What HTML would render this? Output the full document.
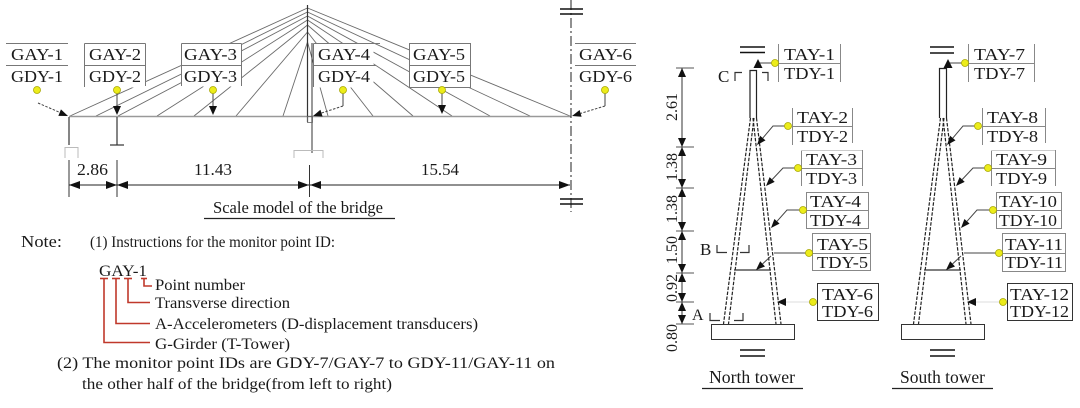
<!DOCTYPE html>
<html><head><meta charset="utf-8"><style>
html,body{margin:0;padding:0;background:#fff;}
svg{display:block;font-family:"Liberation Serif","Times New Roman",Times,serif;}
text{font-family:"Liberation Serif","Times New Roman",Times,serif;fill:#1a1a1a;}
</style></head><body>
<svg width="1080" height="408" viewBox="0 0 1080 408" xmlns="http://www.w3.org/2000/svg" font-family="Liberation Serif, Times New Roman, serif">
<rect x="0" y="0" width="1080" height="408" fill="#fff"/>

<!-- ===== LEFT: bridge ===== -->
<g stroke="#6a6a6a" stroke-width="0.9" fill="none">
<line x1="307.5" y1="8" x2="70" y2="116"/>
<line x1="307.5" y1="12" x2="96" y2="116"/>
<line x1="307.5" y1="16" x2="118" y2="116"/>
<line x1="307.5" y1="20" x2="157" y2="116"/>
<line x1="307.5" y1="25" x2="194" y2="116"/>
<line x1="307.5" y1="32" x2="236" y2="116"/>
<line x1="307.5" y1="42" x2="283" y2="116"/>
<line x1="307.5" y1="8" x2="570" y2="116"/>
<line x1="307.5" y1="12" x2="530" y2="116"/>
<line x1="307.5" y1="16" x2="490" y2="116"/>
<line x1="307.5" y1="20" x2="452" y2="116"/>
<line x1="307.5" y1="25" x2="413" y2="116"/>
<line x1="307.5" y1="32" x2="373" y2="116"/>
<line x1="307.5" y1="42" x2="328" y2="116"/>
</g>
<line x1="69" y1="116.5" x2="571" y2="116.5" stroke="#999" stroke-width="1.5"/>
<line x1="307.5" y1="5" x2="307.5" y2="122" stroke="#333" stroke-width="1.2"/>
<line x1="312" y1="43" x2="312" y2="153" stroke="#333" stroke-width="1"/>
<rect x="307.5" y="116.5" width="5" height="6" fill="none" stroke="#666" stroke-width="0.8"/>

<line x1="571" y1="0" x2="571" y2="212" stroke="#222" stroke-width="1" stroke-dasharray="10 3 2 3"/>
<g stroke="#111" stroke-width="1.5">
<line x1="560" y1="9" x2="583" y2="9"/><line x1="560" y1="14" x2="583" y2="14"/>
<line x1="560" y1="199" x2="583" y2="199"/><line x1="560" y1="204" x2="583" y2="204"/>
</g>

<g stroke="#333" stroke-width="1.2" fill="none">
<line x1="69" y1="117" x2="69" y2="145"/>
<line x1="117" y1="117" x2="117" y2="145"/>
<line x1="110" y1="145" x2="124" y2="145"/>
</g>
<g stroke="#bbb" stroke-width="1" fill="none">
<path d="M65,158 V147.5 H78 V158"/>
<path d="M294,158 V150.5 H323 V158"/>
</g>
<g stroke="#333" stroke-width="1">
<line x1="69" y1="160" x2="69" y2="197"/>
<line x1="117" y1="160" x2="117" y2="197"/>
<line x1="309.5" y1="165" x2="309.5" y2="197"/>
</g>
<g stroke="#222" stroke-width="1">
<line x1="69" y1="185" x2="117" y2="185"/>
<line x1="117" y1="185" x2="309" y2="185"/>
<line x1="310" y1="185" x2="570" y2="185"/>
</g>
<g fill="#111">
<polygon points="69,185 80,181 80,189"/>
<polygon points="117,185 106,181 106,189"/>
<polygon points="117,185 128,181 128,189"/>
<polygon points="309,185 298,181 298,189"/>
<polygon points="310,185 321,181 321,189"/>
<polygon points="570,185 559,181 559,189"/>
</g>
<text x="77" y="175" font-size="17" textLength="31" lengthAdjust="spacingAndGlyphs">2.86</text>
<text x="194" y="175" font-size="17" textLength="38" lengthAdjust="spacingAndGlyphs">11.43</text>
<text x="421" y="175" font-size="17" textLength="38" lengthAdjust="spacingAndGlyphs">15.54</text>

<text x="213" y="213" font-size="16.5" textLength="170" lengthAdjust="spacingAndGlyphs">Scale model of the bridge</text>
<line x1="204" y1="218.5" x2="395" y2="218.5" stroke="#222" stroke-width="1.2"/>

<!-- GAY labels -->
<g stroke="#777" stroke-width="1" fill="none">
<line x1="6" y1="43.5" x2="68" y2="43.5"/><line x1="6" y1="65.5" x2="68" y2="65.5"/>
</g>
<rect x="84.5" y="43.5" width="61" height="44" fill="#fff"/>
<g stroke="#777" stroke-width="1" fill="none">
<line x1="84.5" y1="43.5" x2="145.5" y2="43.5"/><line x1="84.5" y1="65.5" x2="145.5" y2="65.5"/>
<line x1="84.5" y1="43.5" x2="84.5" y2="87"/><line x1="145.5" y1="43.5" x2="145.5" y2="86"/>
</g>
<rect x="181.5" y="43.5" width="60" height="43" fill="#fff"/>
<g stroke="#777" stroke-width="1" fill="none">
<line x1="181.5" y1="43.5" x2="241.5" y2="43.5"/><line x1="181.5" y1="65.5" x2="241.5" y2="65.5"/>
<line x1="181.5" y1="43.5" x2="181.5" y2="86"/><line x1="241.5" y1="43.5" x2="241.5" y2="86"/>
</g>
<rect x="313.5" y="43.5" width="60" height="44" fill="#fff"/>
<g stroke="#777" stroke-width="1" fill="none">
<line x1="313.5" y1="43.5" x2="380" y2="43.5"/><line x1="313.5" y1="65.5" x2="376" y2="65.5"/>
<line x1="313.5" y1="43.5" x2="313.5" y2="87"/>
</g>
<rect x="409.5" y="43.5" width="61" height="44" fill="#fff" stroke="#777" stroke-width="1"/>
<line x1="409.5" y1="65.5" x2="470.5" y2="65.5" stroke="#777" stroke-width="1"/>
<g stroke="#777" stroke-width="1" fill="none">
<line x1="575" y1="43.5" x2="636" y2="43.5"/><line x1="575" y1="65.5" x2="636" y2="65.5"/>
</g>
<g font-size="17">
<text x="11" y="60" textLength="52" lengthAdjust="spacingAndGlyphs">GAY-1</text>
<text x="11" y="82" textLength="52" lengthAdjust="spacingAndGlyphs">GDY-1</text>
<text x="89" y="60" textLength="52" lengthAdjust="spacingAndGlyphs">GAY-2</text>
<text x="89" y="82" textLength="52" lengthAdjust="spacingAndGlyphs">GDY-2</text>
<text x="184" y="60" textLength="53" lengthAdjust="spacingAndGlyphs">GAY-3</text>
<text x="184" y="82" textLength="53" lengthAdjust="spacingAndGlyphs">GDY-3</text>
<text x="318" y="60" textLength="52" lengthAdjust="spacingAndGlyphs">GAY-4</text>
<text x="318" y="82" textLength="52" lengthAdjust="spacingAndGlyphs">GDY-4</text>
<text x="413" y="60" textLength="52" lengthAdjust="spacingAndGlyphs">GAY-5</text>
<text x="413" y="82" textLength="52" lengthAdjust="spacingAndGlyphs">GDY-5</text>
<text x="579" y="60" textLength="53" lengthAdjust="spacingAndGlyphs">GAY-6</text>
<text x="579" y="82" textLength="53" lengthAdjust="spacingAndGlyphs">GDY-6</text>
</g>

<g stroke="#444" stroke-width="1" fill="none">
<line x1="38" y1="103" x2="60" y2="112.5" stroke-dasharray="2.5 1.5"/>
<line x1="117" y1="93" x2="117" y2="106"/>
<line x1="213" y1="93" x2="213" y2="106"/>
<line x1="343" y1="93" x2="343" y2="106"/>
<line x1="343" y1="106" x2="321.5" y2="113" stroke-dasharray="2.5 1.5"/>
<line x1="442" y1="93" x2="442" y2="105"/>
<line x1="605" y1="93" x2="605" y2="106"/>
<line x1="605" y1="106" x2="580.6" y2="113.4" stroke-dasharray="2.5 1.5"/>
</g>
<g fill="#111">
<polygon points="68,116 58.35,115.9 60.95,109.4"/>
<polygon points="117,115 113,106 121,106"/>
<polygon points="213,115 209,106 217,106"/>
<polygon points="313,116 322.6,116.5 320.4,109.8"/>
<polygon points="442,114 438,105 446,105"/>
<polygon points="572,116 581.6,116.75 579.6,110.05"/>
</g>
<g fill="#ecec1a" stroke="#a8a800" stroke-width="0.8">
<circle cx="37" cy="90" r="3.5"/>
<circle cx="117" cy="90" r="3.5"/>
<circle cx="213" cy="90" r="3.5"/>
<circle cx="343" cy="90" r="3.5"/>
<circle cx="442" cy="90" r="3.5"/>
<circle cx="605" cy="90" r="3.5"/>
</g>

<!-- Notes -->
<g font-size="16">
<text x="21" y="247" font-size="17" textLength="41" lengthAdjust="spacingAndGlyphs">Note:</text>
<text x="90" y="247" font-size="15.5" textLength="245" lengthAdjust="spacingAndGlyphs">(1) Instructions for the monitor point ID:</text>
<text x="99" y="276" textLength="48" lengthAdjust="spacingAndGlyphs">GAY-1</text>
<text x="155" y="290" textLength="90" lengthAdjust="spacingAndGlyphs">Point number</text>
<text x="155" y="308" textLength="135" lengthAdjust="spacingAndGlyphs">Transverse direction</text>
<text x="155" y="329" textLength="323" lengthAdjust="spacingAndGlyphs">A-Accelerometers (D-displacement transducers)</text>
<text x="155" y="349" textLength="135" lengthAdjust="spacingAndGlyphs">G-Girder (T-Tower)</text>
<text x="57" y="368" textLength="498" lengthAdjust="spacingAndGlyphs">(2) The monitor point IDs are GDY-7/GAY-7 to GDY-11/GAY-11 on</text>
<text x="82" y="389" textLength="310" lengthAdjust="spacingAndGlyphs">the other half of the bridge(from left to right)</text>
</g>
<g stroke="#c0392b" stroke-width="1.6" fill="none">
<line x1="100" y1="278.5" x2="108" y2="278.5"/>
<line x1="112" y1="278.5" x2="120" y2="278.5"/>
<line x1="124" y1="278.5" x2="132" y2="278.5"/>
<line x1="141" y1="278.5" x2="147" y2="278.5"/>
<path d="M104,278 V342.5 H150"/>
<path d="M116,278 V323.5 H150"/>
<path d="M128,278 V302.5 H150"/>
<path d="M144,278 V286 H152"/>
</g>

<!-- ===== RIGHT: towers ===== -->
<line x1="682" y1="68" x2="682" y2="324" stroke="#333" stroke-width="1"/>
<g stroke="#555" stroke-width="1">
<line x1="676" y1="68" x2="694" y2="68"/>
<line x1="676" y1="147" x2="694" y2="147"/>
<line x1="676" y1="188" x2="694" y2="188"/>
<line x1="676" y1="231" x2="694" y2="231"/>
<line x1="676" y1="273" x2="694" y2="273"/>
<line x1="676" y1="302" x2="694" y2="302"/>
<line x1="676" y1="324" x2="694" y2="324"/>
</g>
<g fill="#111">
<polygon points="682,68 678,77 686,77"/><polygon points="682,147 678,138 686,138"/>
<polygon points="682,147 678,156 686,156"/><polygon points="682,188 678,179 686,179"/>
<polygon points="682,188 678,197 686,197"/><polygon points="682,231 678,222 686,222"/>
<polygon points="682,231 678,240 686,240"/><polygon points="682,273 678,264 686,264"/>
<polygon points="682,273 678,282 686,282"/><polygon points="682,302 678,293 686,293"/>
<polygon points="682,302 678,311 686,311"/><polygon points="682,324 678,315 686,315"/>
</g>
<g font-size="16" text-anchor="middle">
<text transform="translate(677,107) rotate(-90)" textLength="28" lengthAdjust="spacingAndGlyphs">2.61</text>
<text transform="translate(677,167) rotate(-90)" textLength="28" lengthAdjust="spacingAndGlyphs">1.38</text>
<text transform="translate(677,209) rotate(-90)" textLength="28" lengthAdjust="spacingAndGlyphs">1.38</text>
<text transform="translate(677,250) rotate(-90)" textLength="28" lengthAdjust="spacingAndGlyphs">1.50</text>
<text transform="translate(677,288) rotate(-90)" textLength="28" lengthAdjust="spacingAndGlyphs">0.92</text>
<text transform="translate(677,338) rotate(-90)" textLength="28" lengthAdjust="spacingAndGlyphs">0.80</text>
</g>

<text x="718" y="82" font-size="17">C</text>
<text x="700" y="255" font-size="17">B</text>
<text x="692" y="320" font-size="16">A</text>
<g stroke="#333" stroke-width="1.2" fill="none">
<path d="M735,81 V72.5 H742"/><path d="M762,72.5 H768 V81"/>
<path d="M717,245 V252.5 H727"/><path d="M740,252.5 H749 V245"/>
<path d="M710,313 V320.5 H720"/><path d="M734,320.5 H743 V313"/>
</g>

<!-- North tower -->
<g stroke="#222" stroke-width="1.2" fill="none">
<path d="M750,118 V70.5 H756.5 V118"/>
</g>
<g stroke="#222" stroke-width="1.2" stroke-dasharray="3.5 1.5" fill="none">
<line x1="750.5" y1="118" x2="723.5" y2="324"/>
<line x1="754" y1="118" x2="728.5" y2="324"/>
<line x1="753" y1="118" x2="776" y2="324"/>
<line x1="756.5" y1="118" x2="781" y2="324"/>
</g>
<line x1="734" y1="270" x2="771" y2="270" stroke="#333" stroke-width="1.2"/>
<rect x="711.5" y="324.5" width="83" height="15" fill="#fff" stroke="#333" stroke-width="1"/>
<g stroke="#111" stroke-width="1.6">
<line x1="740" y1="47" x2="765" y2="47"/><line x1="740" y1="52.5" x2="765" y2="52.5"/>
<line x1="740" y1="350" x2="765" y2="350"/><line x1="740" y1="356" x2="765" y2="356"/>
</g>
<text x="709" y="383" font-size="17.5" textLength="86" lengthAdjust="spacingAndGlyphs">North tower</text>
<line x1="702" y1="388.5" x2="803" y2="388.5" stroke="#222" stroke-width="1.2"/>

<!-- South tower -->
<g stroke="#222" stroke-width="1.2" fill="none">
<path d="M939.5,118 V68.5 H946.5 V118"/>
</g>
<g stroke="#222" stroke-width="1.2" stroke-dasharray="3.5 1.5" fill="none">
<line x1="940.5" y1="118" x2="913.5" y2="324"/>
<line x1="944" y1="118" x2="918.5" y2="324"/>
<line x1="943" y1="118" x2="966" y2="324"/>
<line x1="946.5" y1="118" x2="971" y2="324"/>
</g>
<line x1="924" y1="270" x2="961" y2="270" stroke="#333" stroke-width="1.2"/>
<rect x="901.5" y="324.5" width="83" height="15" fill="#fff" stroke="#333" stroke-width="1"/>
<g stroke="#111" stroke-width="1.6">
<line x1="930" y1="47" x2="954" y2="47"/><line x1="930" y1="53" x2="954" y2="53"/>
<line x1="930" y1="350" x2="955" y2="350"/><line x1="930" y1="356" x2="955" y2="356"/>
</g>
<text x="900" y="383" font-size="17.5" textLength="85" lengthAdjust="spacingAndGlyphs">South tower</text>
<line x1="892" y1="388.5" x2="993" y2="388.5" stroke="#222" stroke-width="1.2"/>

<!-- North tower labels -->
<g stroke="#888" stroke-width="1" fill="none">
<line x1="778.5" y1="44" x2="778.5" y2="82"/><line x1="840.5" y1="44" x2="840.5" y2="82"/><line x1="778" y1="63.5" x2="840" y2="63.5"/>
<line x1="792.5" y1="108" x2="792.5" y2="145"/><line x1="852.5" y1="108" x2="852.5" y2="143"/><line x1="792" y1="126.5" x2="852" y2="126.5"/>
<line x1="801.5" y1="150" x2="801.5" y2="186"/><line x1="862.5" y1="150" x2="862.5" y2="186"/><line x1="801" y1="168.5" x2="862" y2="168.5"/><line x1="801" y1="150.5" x2="862" y2="150.5" stroke="#ccc"/>
<rect x="806.5" y="192.5" width="62" height="36"/><line x1="806" y1="210.5" x2="868" y2="210.5"/>
<rect x="812.5" y="233.5" width="58" height="37"/><line x1="812" y1="253.5" x2="870" y2="253.5"/>
<rect x="817.5" y="283.5" width="61" height="37" stroke="#333"/>
</g>
<g font-size="17">
<text x="784" y="60" textLength="51" lengthAdjust="spacingAndGlyphs">TAY-1</text>
<text x="784" y="79" textLength="51" lengthAdjust="spacingAndGlyphs">TDY-1</text>
<text x="797" y="123" textLength="51" lengthAdjust="spacingAndGlyphs">TAY-2</text>
<text x="797" y="142" textLength="51" lengthAdjust="spacingAndGlyphs">TDY-2</text>
<text x="806" y="165" textLength="51" lengthAdjust="spacingAndGlyphs">TAY-3</text>
<text x="806" y="184" textLength="51" lengthAdjust="spacingAndGlyphs">TDY-3</text>
<text x="810" y="207" textLength="51" lengthAdjust="spacingAndGlyphs">TAY-4</text>
<text x="810" y="226" textLength="51" lengthAdjust="spacingAndGlyphs">TDY-4</text>
<text x="817" y="250" textLength="51" lengthAdjust="spacingAndGlyphs">TAY-5</text>
<text x="817" y="268" textLength="51" lengthAdjust="spacingAndGlyphs">TDY-5</text>
<text x="822" y="300" textLength="51" lengthAdjust="spacingAndGlyphs">TAY-6</text>
<text x="822" y="317" textLength="51" lengthAdjust="spacingAndGlyphs">TDY-6</text>
</g>
<g stroke="#444" stroke-width="1" fill="none">
<line x1="775" y1="63" x2="758" y2="63"/>
<polyline points="788,126 773,126 762.8,138.1"/>
<polyline points="798,168 783,168 772.2,179.5"/>
<polyline points="803,210 787,210 777,221.3"/>
<line x1="809" y1="253" x2="774" y2="253"/>
<line x1="771" y1="256" x2="762.6" y2="263.9"/>
<line x1="813" y1="302" x2="786" y2="302" stroke="#ddd"/>
</g>
<g fill="#111">
<polygon points="758,59 753.5,68 762.5,68"/>
<polygon points="757,145 765.5,140.4 760.1,135.8"/>
<polygon points="766,186 774.7,181.9 769.6,177.1"/>
<polygon points="771,228 779.6,223.6 774.4,219"/>
<polygon points="756,270 765,266.5 760.2,261.3"/>
<polygon points="777,302 786,298 786,306"/>
</g>

<!-- South tower labels -->
<g stroke="#888" stroke-width="1" fill="none">
<line x1="968.5" y1="44" x2="968.5" y2="82"/><line x1="1034.5" y1="44" x2="1034.5" y2="82"/><line x1="968" y1="63.5" x2="1034" y2="63.5"/>
<line x1="982.5" y1="108" x2="982.5" y2="145"/><line x1="1045.5" y1="108" x2="1045.5" y2="143"/><line x1="982" y1="126.5" x2="1045" y2="126.5"/>
<line x1="991.5" y1="150" x2="991.5" y2="186"/><line x1="1055.5" y1="150" x2="1055.5" y2="186"/><line x1="991" y1="168.5" x2="1055" y2="168.5"/><line x1="991" y1="150.5" x2="1055" y2="150.5" stroke="#ccc"/>
<rect x="996.5" y="192.5" width="65" height="36"/><line x1="996" y1="210.5" x2="1061" y2="210.5"/>
<rect x="1002.5" y="233.5" width="63" height="38"/><line x1="1002" y1="253.5" x2="1065" y2="253.5"/>
<rect x="1007.5" y="283.5" width="65" height="37" stroke="#333"/>
</g>
<g font-size="17">
<text x="974" y="60" textLength="51" lengthAdjust="spacingAndGlyphs">TAY-7</text>
<text x="974" y="79" textLength="51" lengthAdjust="spacingAndGlyphs">TDY-7</text>
<text x="987" y="123" textLength="51" lengthAdjust="spacingAndGlyphs">TAY-8</text>
<text x="987" y="142" textLength="51" lengthAdjust="spacingAndGlyphs">TDY-8</text>
<text x="996" y="165" textLength="51" lengthAdjust="spacingAndGlyphs">TAY-9</text>
<text x="996" y="184" textLength="51" lengthAdjust="spacingAndGlyphs">TDY-9</text>
<text x="999" y="207" textLength="58" lengthAdjust="spacingAndGlyphs">TAY-10</text>
<text x="999" y="226" textLength="58" lengthAdjust="spacingAndGlyphs">TDY-10</text>
<text x="1005" y="250" textLength="58" lengthAdjust="spacingAndGlyphs">TAY-11</text>
<text x="1005" y="268" textLength="58" lengthAdjust="spacingAndGlyphs">TDY-11</text>
<text x="1010" y="300" textLength="59" lengthAdjust="spacingAndGlyphs">TAY-12</text>
<text x="1010" y="317" textLength="59" lengthAdjust="spacingAndGlyphs">TDY-12</text>
</g>
<g stroke="#444" stroke-width="1" fill="none">
<line x1="965" y1="63" x2="948" y2="63"/>
<polyline points="978,126 963,126 952.8,138.1"/>
<polyline points="988,168 973,168 962.2,179.5"/>
<polyline points="993,210 977,210 967,221.3"/>
<line x1="999" y1="253" x2="964" y2="253"/>
<line x1="961" y1="256" x2="952.6" y2="263.9"/>
<line x1="1003" y1="302" x2="976" y2="302" stroke="#ddd"/>
</g>
<g fill="#111">
<polygon points="948,59 943.5,68 952.5,68"/>
<polygon points="947,145 955.5,140.4 950.1,135.8"/>
<polygon points="956,186 964.7,181.9 959.6,177.1"/>
<polygon points="961,228 969.6,223.6 964.4,219"/>
<polygon points="946,270 955,266.5 950.2,261.3"/>
<polygon points="967,302 976,298 976,306"/>
</g>

<g fill="#ecec1a" stroke="#a8a800" stroke-width="0.8">
<circle cx="775" cy="63" r="3.5"/>
<circle cx="788" cy="126" r="3.5"/>
<circle cx="798" cy="168" r="3.5"/>
<circle cx="803" cy="210" r="3.5"/>
<circle cx="809" cy="253" r="3.5"/>
<circle cx="813" cy="302" r="3.5"/>
<circle cx="965" cy="63" r="3.5"/>
<circle cx="978" cy="126" r="3.5"/>
<circle cx="988" cy="168" r="3.5"/>
<circle cx="993" cy="210" r="3.5"/>
<circle cx="999" cy="253" r="3.5"/>
<circle cx="1003" cy="302" r="3.5"/>
</g>
</svg>
</body></html>
